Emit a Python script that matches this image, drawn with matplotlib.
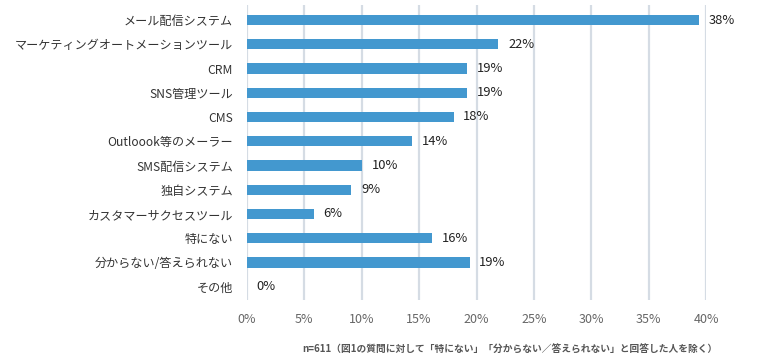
import matplotlib
matplotlib.use("Agg")
import matplotlib.pyplot as plt

plt.rcParams['font.family'] = ['Noto Sans CJK JP', 'DejaVu Sans']

categories = ["メール配信システム", "マーケティングオートメーションツール", "CRM", "SNS管理ツール",
              "CMS", "Outloook等のメーラー", "SMS配信システム", "独自システム",
              "カスタマーサクセスツール", "特にない", "分からない/答えられない", "その他"]
values = [39.4, 21.9, 19.2, 19.2, 18.0, 14.4, 10.0, 9.1, 5.8, 16.1, 19.4, 0.0]
value_labels = ["38%", "22%", "19%", "19%", "18%", "14%", "10%", "9%", "6%", "16%", "19%", "0%"]
xticks = [0, 5, 10, 15, 20, 25, 30, 35, 40]
xtick_labels = ["0%", "5%", "10%", "15%", "20%", "25%", "30%", "35%", "40%"]
note = "n=611（図1の質問に対して「特にない」「分からない／答えられない」と回答した人を除く）"

fig = plt.figure(figsize=(7.6, 3.58), dpi=100)
ax = fig.add_axes([0.325, 0.162, 0.604, 0.824])

y = list(range(len(categories)))
ax.barh(y, values, height=0.42, color="#4398CF", zorder=3)
for yi, v, lab in zip(y, values, value_labels):
    ax.annotate(lab, (v, yi), xytext=(7, 0), textcoords="offset points",
                va="center", ha="left", fontsize=9.3, color="#222222")

ax.set_xlim(0, 40)
ax.set_ylim(11.55, -0.62)
ax.set_yticks(y)
ax.set_yticklabels(categories, fontsize=8.7, color="#333333")
ax.set_xticks(xticks)
ax.set_xticklabels(xtick_labels, fontsize=9, color="#666666")
ax.tick_params(axis="both", length=0)
ax.tick_params(axis="y", pad=10)
ax.tick_params(axis="x", pad=9)
ax.xaxis.grid(True, color="#D5DCE4", linewidth=1.6, zorder=0)
ax.set_axisbelow(True)
for s in ax.spines.values():
    s.set_visible(False)

fig.text(0.671, 0.022, note, ha="center", va="center", fontsize=7, color="#555555", fontweight="bold")

fig.savefig("out.png", dpi=100)
